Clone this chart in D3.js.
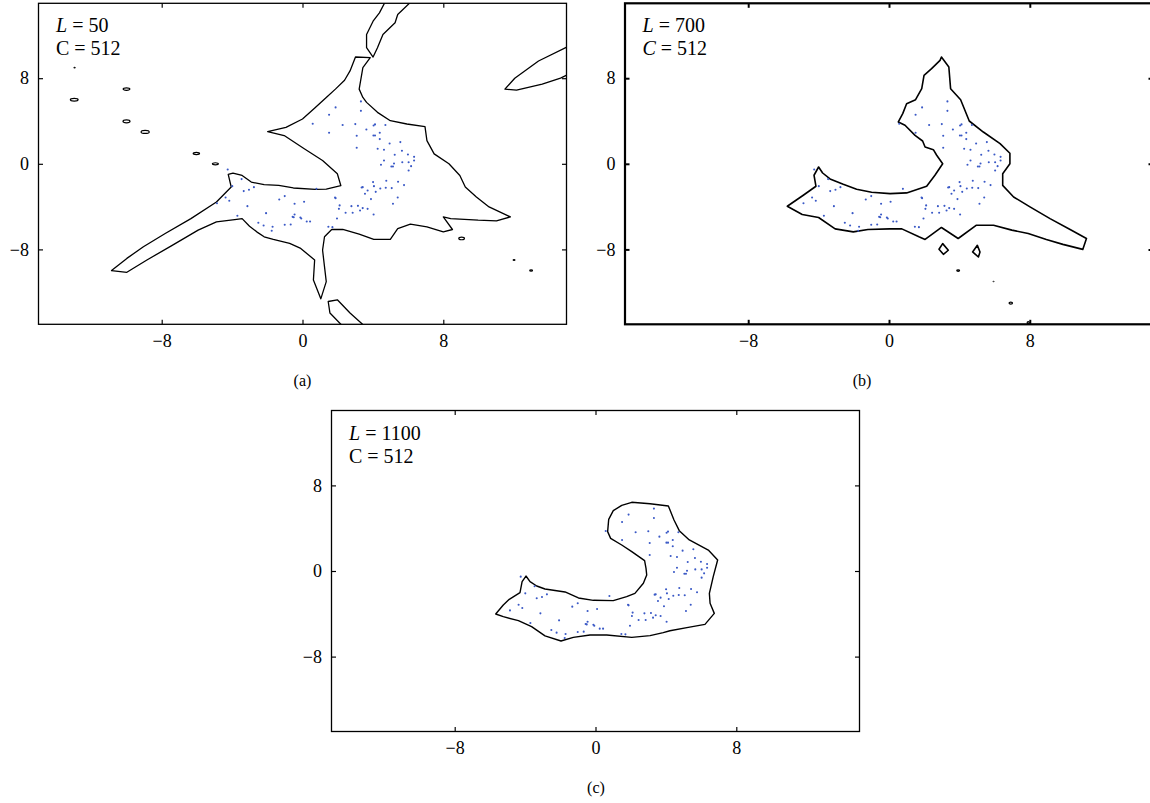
<!DOCTYPE html>
<html><head><meta charset="utf-8">
<script src="https://cdn.jsdelivr.net/npm/d3@7"></script>
<style>
body{margin:0;background:#fff}
svg{display:block}
</style>
</head><body>
<svg id="chart" width="1150" height="803"></svg>
<script>
// ---------- data ----------
const axisDomain = [-15, 15];
const tickValues = [-8, 0, 8];
const panelLabels = ["(a)", "(b)", "(c)"];
const lValues = [50, 700, 1100];
const cValues = [512, 512, 512];

// sample points (shared by all panels)
const dotX = [3.32,1.88,3.32,1.51,0.58,2.28,3.00,4.04,4.12,4.71,3.63,1.51,3.08,4.03,4.12,4.39,4.39,4.95,5.56,3.08,4.27,4.63,5.24,5.65,5.99,6.34,6.34,4.63,5.20,4.46,5.05,5.14,5.67,6.03,6.17,6.03,
  4.76,5.43,4.01,3.42,3.36,4.06,3.70,4.42,4.73,5.07,5.77,4.16,3.55,5.41,3.89,5.14,
  1.85,1.88,2.11,2.07,2.78,3.15,3.42,3.70,3.27,2.45,2.85,4.04,1.96,
  0.79,0.09,-0.45,-0.45,-0.50,-0.56,-0.12,-0.07,0.24,0.43,-0.67,-1.01,1.47,1.70,-1.32,-1.01,-2.07,-2.51,-2.21,-1.70,-1.75,
  -4.25,-3.46,-3.99,-3.34,-3.04,-2.76,-4.86,-4.37,-4.16,-3.13,-3.70];
const dotY = [5.83,5.27,4.95,4.58,3.74,3.62,3.71,3.58,3.68,3.62,3.21,2.90,2.62,2.65,2.65,2.90,2.31,1.90,2.03,1.50,1.40,1.31,0.84,1.22,0.87,0.65,0.31,0.31,0.03,-0.09,-0.25,-0.25,0.15,0.15,-0.22,-0.62,
  -1.59,-1.68,-1.71,-2.18,-2.21,-2.09,-2.49,-2.31,-2.24,-2.27,-1.99,-2.62,-2.80,-3.15,-3.30,-3.74,
  -3.15,-3.21,-3.89,-4.21,-3.96,-3.93,-4.14,-4.21,-4.36,-4.58,-4.58,-4.74,-5.11,
  -2.34,-3.55,-3.74,-4.74,-4.99,-4.96,-5.02,-5.11,-5.39,-5.39,-5.67,-5.70,-5.89,-5.92,-3.33,-3.02,-4.61,-5.51,-5.76,-5.89,-6.26,
  -0.53,-1.43,-2.09,-2.55,-2.43,-2.18,-3.68,-3.15,-3.46,-3.96,-4.86];

// panel (a) contours, L = 50
const contourA = [[-10.85,-9.98],[-9.98,-8.84],[-9.04,-7.75],[-7.80,-6.51],[-6.34,-5.12],[-4.89,-3.57],[-4.05,-2.17],[-4.22,-0.99],[-3.95,-0.87],[-3.43,-1.09],[-2.91,-1.71],[-2.18,-1.95],[-1.35,-2.02],[-0.52,-2.26],[0.73,-2.39],[1.35,-2.36],[2.18,-2.05],[1.98,-0.93],[1.14,0.31],[0.10,1.40],[-1.04,2.64],[-1.98,3.01],[-0.94,3.41],[0.0,4.19],[0.73,5.27],[1.35,6.20],[1.87,6.98],[2.39,7.81],[2.70,8.68],[3.01,9.98],[3.85,9.92],[3.43,8.99],[3.22,6.98],[3.43,6.20],[3.64,5.74],[4.26,4.81],[4.99,4.03],[5.93,3.72],[6.96,3.47],[7.07,2.17],[7.48,0.93],[8.32,0.0],[8.94,-1.09],[9.25,-2.17],[9.88,-3.10],[10.60,-4.03],[11.81,-4.96],[11.02,-5.33],[9.98,-5.27],[8.42,-5.12],[8.00,-4.96],[8.52,-6.14],[8.00,-6.36],[7.07,-5.89],[6.13,-5.64],[5.41,-6.05],[4.99,-7.07],[4.05,-7.07],[3.22,-6.57],[2.29,-6.14],[1.66,-6.14],[1.25,-6.82],[1.14,-8.06],[1.25,-9.61],[1.35,-11.01],[1.04,-12.62],[0.62,-10.85],[0.69,-8.99],[-0.10,-7.91],[-0.73,-7.44],[-1.66,-7.07],[-2.18,-6.82],[-2.60,-6.36],[-3.01,-5.83],[-3.43,-5.12],[-3.85,-5.21],[-4.89,-5.43],[-5.93,-6.20],[-7.38,-7.60],[-8.84,-8.99],[-9.98,-10.14]];
const stripATop = [[4.72,15.2],[4.37,14.11],[4.01,13.33],[3.64,12.09],[3.64,10.85],[4.01,9.98],[4.26,10.85],[4.57,12.09],[5.26,13.18],[5.41,13.95],[6.2,15.2]];
const stripARight = [[15.2,11.05],[13.41,9.61],[12.06,8.0],[11.50,6.98],[12.16,6.88],[13.62,7.44],[14.66,8.0],[15.2,8.45]];
const stripABottom = [[2.3,-15.2],[1.56,-13.95],[1.46,-12.87],[1.98,-12.71],[2.70,-13.95],[3.55,-15.2]];
// small closed contours: [x, y, halfWidth, halfHeight]
const islandsA = [[-12.97,5.98,0.22,0.13],[-10.0,6.98,0.19,0.11],[-10.0,3.97,0.2,0.14],[-8.94,2.98,0.23,0.14],[-6.03,0.96,0.18,0.1],[-4.95,0.0,0.17,0.1],[9.04,-6.98,0.16,0.12],[-12.95,8.99,0.03,0.03],[12.02,-8.99,0.05,0.04],[12.99,-9.98,0.08,0.06]];

// panel (b) contours, L = 700
const contourB = [[-5.78,-3.97],[-4.87,-2.94],[-4.15,-2.10],[-4.26,-1.07],[-4.00,-0.30],[-3.77,-0.86],[-3.35,-1.42],[-2.60,-1.92],[-1.84,-2.38],[-0.99,-2.66],[0.06,-2.79],[1.00,-2.72],[2.14,-2.10],[2.61,-1.07],[3.05,0.01],[2.71,0.80],[2.52,1.32],[2.05,1.57],[1.91,2.13],[1.48,2.66],[0.91,3.60],[0.53,3.91],[0.78,4.69],[1.00,5.62],[1.51,5.99],[1.86,7.02],[1.99,8.27],[2.42,8.89],[2.90,9.67],[2.98,9.98],[3.40,9.05],[3.50,7.02],[4.07,5.99],[4.56,4.00],[5.36,2.97],[6.31,1.88],[6.87,0.99],[6.87,0],[6.46,-0.93],[6.46,-2.02],[7.08,-3.10],[8.01,-4.03],[9.15,-5.12],[10.29,-6.14],[11.22,-6.98],[11.01,-8.0],[9.88,-7.53],[8.94,-7.07],[7.91,-6.51],[6.98,-6.20],[5.94,-5.74],[4.97,-5.74],[3.93,-6.98],[2.98,-5.95],[2.05,-7.07],[1.70,-6.82],[0.73,-6.08],[0.04,-6.08],[-1.20,-6.14],[-2.03,-6.36],[-3.06,-6.08],[-4.0,-5.02],[-4.93,-4.74]];
const diamondB1 = [[2.84,-7.99],[3.05,-7.46],[3.37,-8.08],[3.09,-8.46]];
const diamondB2 = [[4.75,-8.24],[5.02,-7.62],[5.17,-8.24],[5.08,-8.71]];
const islandsB = [[3.93,-9.98,0.08,0.07],[5.94,-11.0,0.02,0.02],[6.92,-13.02,0.1,0.1],[7.91,-14.85,0.06,0.1]];

// panel (c) contour, L = 1100
const contourC = [[-5.67,-4.02],[-5.24,-3.18],[-4.90,-2.65],[-4.29,-2.02],[-4.17,-1.00],[-3.95,-0.47],[-3.72,-1.00],[-3.34,-1.40],[-2.87,-1.68],[-1.73,-1.96],[-0.97,-2.52],[-0.12,-2.74],[1.01,-2.77],[1.77,-2.40],[2.24,-2.09],[2.72,-1.15],[2.91,-0.37],[2.87,0.25],[2.79,0.97],[2.06,1.81],[1.49,2.43],[0.86,3.05],[0.69,3.68],[0.75,4.83],[1.01,5.64],[1.49,6.14],[2.06,6.42],[3.10,6.29],[4.14,6.08],[4.46,4.77],[4.76,3.77],[5.33,2.90],[6.41,1.96],[6.94,1.03],[6.69,-0.53],[6.47,-2.09],[6.51,-3.02],[6.75,-3.96],[6.22,-4.99],[5.27,-5.27],[4.23,-5.58],[3.85,-5.76],[3.10,-6.04],[2.06,-6.20],[0.64,-5.98],[-0.31,-5.98],[-1.26,-6.20],[-1.96,-6.54],[-2.87,-6.07],[-3.63,-5.20],[-4.38,-4.64],[-5.24,-4.27]];

// ---------- drawing ----------
const FONT = "'Liberation Serif', 'Times New Roman', serif";
const svg = d3.select("#chart");
const W = 528, H = 321;
const panels = [
  {left: 38.5, top: 3.3, frame: 1.3, line: 1.3, label: 302.5, labelY: 386,
   closed: [contourA], open: [stripATop, stripARight, stripABottom], islands: islandsA, cItalic: false},
  {left: 625, top: 3.3, frame: 2.2, line: 1.6, label: 862, labelY: 386,
   closed: [contourB, diamondB1, diamondB2], open: [], islands: islandsB, cItalic: true},
  {left: 331.5, top: 410.5, frame: 1.3, line: 1.4, label: 596, labelY: 793,
   closed: [contourC], open: [], islands: [], cItalic: false}
];

panels.forEach((p, i) => {
  const x = d3.scaleLinear().domain(axisDomain).range([0, W]);
  const y = d3.scaleLinear().domain(axisDomain).range([H, 0]);
  const g = svg.append("g").attr("transform", `translate(${p.left},${p.top})`);
  const clipId = "clip" + i;
  g.append("clipPath").attr("id", clipId).append("rect").attr("width", W).attr("height", H);
  const plot = g.append("g").attr("clip-path", `url(#${clipId})`);

  const lineClosed = d3.line().x(d => x(d[0])).y(d => y(d[1])).curve(d3.curveLinearClosed);
  const lineOpen = d3.line().x(d => x(d[0])).y(d => y(d[1]));

  plot.selectAll("path.closed").data(p.closed).join("path")
    .attr("class", "closed").attr("d", lineClosed)
    .attr("fill", "none").attr("stroke", "#000").attr("stroke-width", p.line).attr("stroke-linejoin", "round");
  plot.selectAll("path.open").data(p.open).join("path")
    .attr("class", "open").attr("d", lineOpen)
    .attr("fill", "none").attr("stroke", "#000").attr("stroke-width", p.line).attr("stroke-linejoin", "round");
  plot.selectAll("ellipse").data(p.islands).join("ellipse")
    .attr("cx", d => x(d[0])).attr("cy", d => y(d[1]))
    .attr("rx", d => x(d[2]) - x(0)).attr("ry", d => y(0) - y(d[3]))
    .attr("fill", "none").attr("stroke", "#000").attr("stroke-width", 1.2);

  plot.selectAll("circle.dot").data(dotX.map((v, k) => [v, dotY[k]])).join("circle")
    .attr("class", "dot").attr("cx", d => x(d[0])).attr("cy", d => y(d[1])).attr("r", 1.05)
    .attr("fill", "#3a59c6");

  // axes with inward ticks on all four sides
  const fmt = d3.format("");
  const ax = [
    d3.axisBottom(x).tickValues(tickValues).tickFormat(fmt).tickSizeInner(-4.5).tickSizeOuter(0).tickPadding(10),
    d3.axisLeft(y).tickValues(tickValues).tickFormat(fmt).tickSizeInner(-4.5).tickSizeOuter(0).tickPadding(9.5),
    d3.axisTop(x).tickValues(tickValues).tickFormat("").tickSizeInner(-4.5).tickSizeOuter(0),
    d3.axisRight(y).tickValues(tickValues).tickFormat("").tickSizeInner(-4.5).tickSizeOuter(0)
  ];
  const trans = [`translate(0,${H})`, null, null, `translate(${W},0)`];
  ax.forEach((a, k) => {
    const ag = g.append("g").attr("transform", trans[k]).call(a);
    ag.attr("font-family", FONT).attr("font-size", 18);
    ag.select(".domain").remove();
    ag.selectAll(".tick line").attr("stroke", "#000").attr("stroke-width", p.frame * 0.9);
    ag.selectAll(".tick text").attr("font-family", FONT).attr("font-size", 18).attr("fill", "#000");
  });

  g.append("rect").attr("width", W).attr("height", H)
    .attr("fill", "none").attr("stroke", "#000").attr("stroke-width", p.frame);

  const t1 = g.append("text").attr("x", 17.5).attr("y", 29).attr("font-size", 20).attr("font-family", FONT);
  t1.append("tspan").attr("font-style", "italic").text("L");
  t1.append("tspan").text(" = " + lValues[i]);
  const t2 = g.append("text").attr("x", 17.5).attr("y", 52).attr("font-size", 20).attr("font-family", FONT);
  t2.append("tspan").attr("font-style", p.cItalic ? "italic" : "normal").text("C");
  t2.append("tspan").text(" = " + cValues[i]);

  svg.append("text").attr("x", p.label).attr("y", p.labelY).attr("text-anchor", "middle")
    .attr("font-family", FONT).attr("font-size", 16).text(panelLabels[i]);
});
</script>
</body></html>
